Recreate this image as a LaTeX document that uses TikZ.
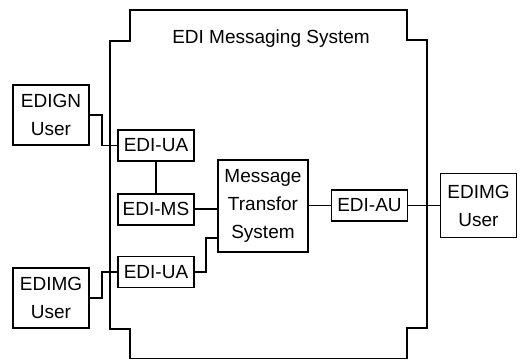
\documentclass[tikz,border=0pt]{standalone}
\usepackage{fontspec}
\setmainfont{Liberation Sans}
\usetikzlibrary{positioning, calc}

\begin{document}
\begin{tikzpicture}[
    x=0.5pt, y=-0.5pt,
    node distance=15pt and 12pt,
    font=\fontsize{9.5}{14}\selectfont,
    box/.style={draw, line width=0.85pt, inner sep=0pt, minimum width=38pt, minimum height=15.5pt, align=center},
    user/.style={box, minimum height=30pt},
    wire/.style={line width=0.75pt},
    sysbound/.style={line width=0.9pt}
  ]
  \useasboundingbox (0,0) rectangle (521,360);

  % System boundary
  \draw[sysbound] (130,10) -- (407,10) -- (407,40) -- (427,40) -- (427,328) -- (407,328) -- (407,358.5)
    -- (130,358.5) -- (130,329) -- (110,329) -- (110,41) -- (130,41) -- cycle;
  \node (title) at (271,39) {EDI Messaging System};

  % Agents inside the system
  \node[box] (uatop) at (156,145.5) {EDI-UA};
  \node[box, below=15.5pt of uatop] (ms) {EDI-MS};
  \node[box, below=15pt of ms] (uabot) {EDI-UA};
  \node[box, minimum width=45pt, minimum height=46pt] (mts) at (263,206) {Message\\Transfor\\System};
  \node[box] (au) at (369.5,205.5) {EDI-AU};

  % Users
  \node[user] (gnuser) at (51,115) {EDIGN\\User};
  \node[user] (mguserl) at (51,298) {EDIMG\\User};
  \node[user, minimum height=32pt] (mguserr) at (478.5,205.5) {EDIMG\\User};

  % Connections
  \draw[wire] (gnuser.east) -- ++(12,0) |- (uatop.west);
  \draw[wire] (uatop.south) -- (ms.north);
  \draw[wire] (ms.east) -- (ms.east -| mts.west);
  \draw[wire] (mguserl.east) -- ++(12,0) |- (uabot.west);
  \draw[wire] (uabot.east) -- ++(11,0) |- ($(mts.west)+(0,32)$);
  \draw[wire] (mts.east |- au.west) -- (au.west);
  \draw[wire] (au.east) -- (mguserr.west);

\end{tikzpicture}
\end{document}
